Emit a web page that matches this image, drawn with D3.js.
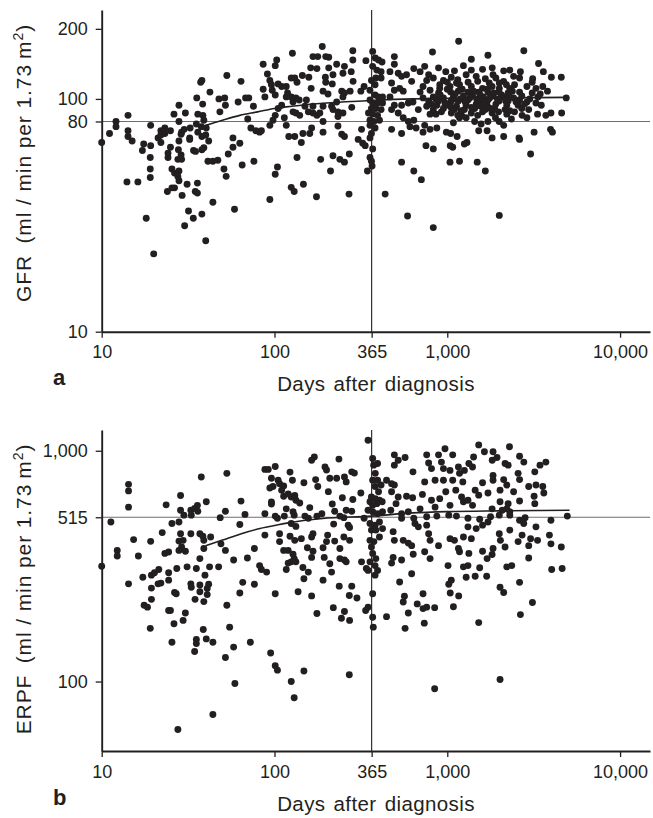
<!DOCTYPE html>
<html>
<head>
<meta charset="utf-8">
<script src="https://cdn.jsdelivr.net/npm/d3@7/dist/d3.min.js"></script>
<style>
html,body{margin:0;padding:0;background:#fff;}
svg{display:block;font-family:"Liberation Sans",Arial,Helvetica,sans-serif;}
</style>
</head>
<body>
<svg id="chart" width="653" height="818"></svg>
<script>
// ---------------- DATA ----------------
const xTickValues = [10, 100, 365, 1000, 10000];
const xTickLabels = ["10", "100", "365", "1,000", "10,000"];
const gfrTickValues = [10, 80, 100, 200];
const gfrTickLabels = ["10", "80", "100", "200"];
const erpfTickValues = [100, 515, 1000];
const erpfTickLabels = ["100", "515", "1,000"];
const refDays = 365;
const refGfr = 80;
const refErpf = 515;

// Panel a: GFR scatter (days, ml/min per 1.73 m2)
const gfrDays = [
10,11.1,12.1,12.1,14.2,14.2,14.2,15,14,16.2,17.5,17.2,19.2,19.2,19.1,19.1,19.1,18.1,20,21.2,22,22,23.2,23.2,25,25,24.2,24.2,25.5,26.4,28,27.6,29,28.8,28,29,28,26.2,28,30.5,28,26.4,25.5,24,29.2,31.2,31.8,33.9,30.2,38,40,44,35.8,34.8,35.8,34,34.9,38,39,41.6,38,36,32.3,32.3,32.5,35.3,36,38.5,39,37.7,40.3,35.5,38.4,37.4,38,42.3,48.3,47.7,51.5,52,53,61.6,64,68,71,75.5,70,73,78,76,63,57.5,57.5,54,51,52.5,58.7,65,41.2,44,47,40,28.8,27.8,27.6,30,22,
86,103,101,91,94,96,86,88,97,101,105,110,117,119,125,133,139,128,117,110,105,101,98,94,114,117,128,133,140,150,153,157,167,176,191,191,164,160,146,143,131,121,82,84,104,101,125,130,147,94,135,175,185,211,218,239,254,271,270,245,254,233,127,167,178,189,198,206,176,162,145,158,163,131,135,125,197,198,218,216,206,229,254,249,278,284,284,285,245,254,274,249,229,214,218,233,249,233,280,204,191,183,191,167,319,305,324,335,316,330,338,370,383,400,419,370,391,414,386,364,414,382,357,382,400,422,357,370,395,422,364,386,414,350,370,395,357,376,405,357,382,364,357,370,357,364,367,345,437,476,544,544,640,589,466,494,494,520,544,581,622,476,494,530,556,466,494,544,595,633,476,520,556,595,608,640,
1164,821,1378,1719,2773,3374,3598,4003,4569,4880,4590,3981,3720,3960,4060,3180,3035,2600,2620,2120,1817,1700,1520,1570,1995,2120,1300,1256,1140,1075,1040,830,753,1037,1177,1490,1660,708,2000,830,740,890,1240,1600,1820,2120,2300,2650,2420,2620,3120,2890,3260,3570,3800,760,830,950,1055,1286,1470,1660,1910,2120,696,795,904,1037,1177,1378,1600,1817,2000,2300,2620,724,830,950,1085,1240,1400,1617,1840,2120,2420,760,870,1020,1130,1286,1470,1700,1910,2210,2570,2890,3260,2960,3330,795,925,1055,1210,1378,1600,1817,2210,1440,1719,1085,740,724,988,1046,870,795,660,640,680,980,1130,724,890,1046,1158,1317,1520,1719,1995,2250,780,890,1046,1158,1317,1520,1719,1995,2250,2620,830,950,1100,1256,1440,1660,1880,2160,1177,1286,696,780,1100,1378,1840,2710,2890,
810,860,910,970,1000,1065,1110,1190,1220,1270,1350,1420,1480,1550,1640,1700,1760,1860,1950,2060,2180,2280,2380,2500,2700,2800,3000,3100,3350,3500,905,1000,1150,1320,1500,1750,2000,2200,2450,1050,1200,1380,1560,1780,1980,2300,2450,2700,860,1150,1500,1900,2350,3100,3450
];
const gfrValues = [
65,71,80,76,85,73,69,66,44,44,64,60,77,63,56,50,46,30.7,21.6,68,65,73,75,71,73,62,58.5,56,50,48,49,55,55,57.5,66,72,80,86,94,87,44.5,41.5,41.5,40,38.5,43,33,30.7,28.5,32,24.6,36,43.5,40,39.4,60,59.5,60.5,61.7,66,69,72,68,67,75,78,86,85,81,76,75,101,95,118,120,107,88,100,101,94,126,97,119,101,101,93,82,75,73,54,64.5,62,68,58,50,46.5,33.6,52,54,54,54.5,70,70.5,60.5,46.4,74,70,
141,147,139,128,120,115,110,102,109,104,116,113,113,106,102,101,99,97,102,94,91,85,81,77,83,77,88,87,85,93,99,88,87,85,80,72,75,71,71,65,69,69,72,73,51,47.5,41.7,40,43,37,56,38,55,49,57,55,53.5,58,39,70.5,69,76.5,157,152,152,168,152,151,135,136,126,124,111,123,118,123,124,118,127,116,136,141,138,129,131,147,161,119,108,106,108,102,97,93,90,88,87,84,92,105,108,87,93,93,74,67,64.5,63,108,113,146,160,150,147,144,138,133,131,123,120,123,115,109,104,102,102,99,96,96,96,91,91,90,87,86,85,81,80,81,77,75,71,68,61,56,54,51.5,49,39,74,71,53.5,49,31.4,131,152,141,129,125,127,119,117,109,111,108,102,94,94,96,97,90,87,83,80,76,135,
177,159,148,154,161,142,131,124,124,101,87,87,85,74,72,72,58,68,67,69,68,73,73,78,80,77,65,64,69,62,63,61,63,53.5,54,53.5,49,45,31.6,28,138,136,139,134,136,132,133,131,125,123,122,113,111,113,108,120,123,120,124,127,125,122,123,119,107,109,111,113,115,113,111,113,111,111,107,101,102,101,102,103,104,102,103,102,101,93,94,94,93,94,95,94,95,94,94,97,96,90,86,86,88,87,85,87,88,87,86,80,80,79,77,72,72,71,75,74,75,81,90,131,117,113,106,107,108,107,107,107,107,106,98,98,97,98,99,98,99,98,98,99,90,91,90,90,91,90,91,90,83,83,131,127,132,133,127,85,83,
95,100,104,96,110,99,105,100,110,97,101,108,100,104,96,110,101,106,100,104,98,103,108,97,103,95,100,106,102,94,115,118,121,118,119,117,117,115,115,92,89,92,93,91,88,89,88,91,86,85,85,83,82,118,105
];
// Panel a fitted curve
const gfrCurveDays = [40, 50, 63, 80, 100, 126, 200, 365, 630, 1000, 2000, 4900];
const gfrCurveValues = [77, 81, 85, 88, 91, 93, 96, 98.5, 100, 100.5, 101, 101.5];

// Panel b: ERPF scatter (days, ml/min per 1.73 m2)
const erpfDays = [
10,11.3,12.3,12.3,14.3,14.3,14.3,15.3,14.3,16.3,17.3,17.6,18.4,19.1,19.2,19.4,19.4,19.4,20.2,21.4,21.2,22,23.6,22.4,23.2,24.4,25.5,24.4,24.4,24.4,25,26.4,27,26.2,25.5,27.2,28.6,28.6,29.9,28,28.6,28,29,30.5,31.2,32.8,33,34.7,30.5,29.6,32.8,33,34.5,35.8,36,35.3,37,37,39,39.6,40.8,40.8,41.6,37.7,37,38.5,39,39,37,40.3,42.7,42.1,47.5,38.7,40.3,35.3,35.3,34.5,44,52,59,44,27.6,53,48.5,52,49,52,58,63,64,67.5,69.7,65.5,63,53,55,58,72.5,76.5,76.5,28,32.8,29.6,
348,170,164,236,88,92,101,123,196,200,96,105,107,127,148,173,209,229,254,280,290,260,94,98,113,110,178,205,113,120,125,131,133,140,96,96,117,128,160,216,247,284,316,88,101,104,114,130,150,157,176,188,223,239,252,260,280,330,125,133,220,267,272,88,107,123,131,143,164,167,203,200,223,252,272,107,113,120,128,130,120,125,133,155,167,191,194,164,82,84,90,117,146,157,148,101,137,164,191,209,214,239,254,260,239,237,280,271,300,176,219,254,244,272,319,340,337,348,370,370,373,445,570,595,556,565,530,622,544,476,486,635,95,101,104,125,148,130,271,
370,375,395,383,370,395,414,382,400,364,383,405,357,370,391,420,348,370,395,422,357,382,405,364,386,422,357,376,405,364,370,386,357,382,395,348,382,445,476,494,494,494,520,570,633,476,520,581,505,471,544,595,544,486,494,556,595,622,
1520,2290,970,760,890,1075,1640,1840,1940,1420,2620,2773,3720,3440,3210,780,810,925,950,1037,1160,1177,1256,1333,1400,1820,2160,2250,2570,740,850,950,1075,1230,1600,1840,1840,2120,2210,2620,2960,3260,3570,3620,3180,3210,2420,2020,1720,1450,1120,980,718,630,810,904,1210,1317,1240,1520,2020,2250,2620,696,850,1037,1400,1817,2080,2210,2300,640,760,870,1020,1130,1317,1540,1780,2000,2300,2820,2620,2770,3980,4950,650,680,760,780,795,890,1037,1100,1160,1177,1240,1378,1317,1470,1600,1720,2000,2030,2300,2160,1840,1600,1333,1817,1700,2570,2710,3035,3330,2960,3260,3900,3980,4570,2960,2360,2210,1540,1317,1240,1010,795,740,1286,1450,1690,1055,1020,1040,1164,1085,724,670,724,760,845,736,1520,2020,2120,2620,3110,2650,4020,4620,845,2020
];
const erpfValues = [
316,491,370,350,715,670,570,412,265,350,283,214,210,170,405,289,254,227,296,306,265,267,583,442,359,364,484,296,275,203,203,243,240,178,148,309,640,552,526,491,437,406,383,367,314,265,256,227,198,184,552,526,563,580,547,309,245,262,222,289,253,238,264,769,437,426,409,377,341,601,423,314,314,168,153,152,146,135,148,127,98,72,62,798,513,547,395,370,336,479,605,530,343,269,242,214,172,141,148,377,264,370,437,409,
1110,940,910,920,830,830,855,808,850,825,760,745,720,745,727,750,760,760,770,810,800,733,690,700,703,675,700,665,635,650,630,640,610,594,600,588,560,544,567,588,626,615,656,534,521,510,521,526,521,510,521,534,547,521,513,552,547,510,484,470,481,476,465,431,437,426,409,416,423,437,431,404,406,423,409,404,370,370,356,341,326,330,330,380,367,380,345,345,318,306,298,306,312,298,279,240,245,235,275,324,298,341,336,330,377,259,259,236,230,197,209,201,188,184,330,309,203,210,240,190,172,191,170,198,221,234,270,293,336,326,345,356,133,117,112,100,111,85,107,
925,866,880,798,745,745,710,700,664,630,620,610,601,580,590,601,552,544,534,544,484,476,491,453,453,460,409,404,423,383,359,341,330,318,303,303,289,745,720,710,866,960,910,935,810,664,630,635,590,552,534,544,510,446,409,409,398,388,
1060,1040,1020,960,960,960,990,990,935,940,947,893,893,866,810,885,837,893,837,822,850,798,822,880,850,910,880,866,798,733,745,745,745,733,727,782,745,750,710,750,700,710,700,656,635,590,664,675,656,675,675,664,647,626,610,620,630,610,601,642,601,590,606,560,570,580,580,560,552,560,544,510,518,521,526,521,510,505,518,526,526,513,500,484,500,521,484,468,476,437,409,388,416,409,377,365,423,416,468,460,476,491,437,409,453,383,377,367,359,355,341,404,431,416,409,388,468,431,395,383,343,318,314,311,318,314,318,341,365,283,286,286,275,264,242,235,211,240,217,207,210,209,179,180,256,243,269,220,195,306,309,93,102
];
// Panel b fitted curve
const erpfCurveDays = [40, 50, 63, 80, 100, 120, 190, 365, 630, 1000, 2000, 5100];
const erpfCurveValues = [388, 410, 435, 458, 474, 487, 509, 521, 538, 545, 549, 552];

// ---------------- DRAWING ----------------
const svg = d3.select("#chart");
const ink = "#231f20";
const FONT = '"Liberation Sans", Arial, Helvetica, sans-serif';

const x = d3.scaleLog().domain([10, 14900]).range([101.7, 650]);

const panels = [
  {
    days: gfrDays, vals: gfrValues, cDays: gfrCurveDays, cVals: gfrCurveValues,
    y: d3.scaleLog().domain([10, 241]).range([331.7, 10]),
    ticks: gfrTickValues, tickLabels: gfrTickLabels, ref: refGfr,
    title: "GFR", letter: "a", titleCy: 163, xTitleY: 391, letterY: 384.5
  },
  {
    days: erpfDays, vals: erpfValues, cDays: erpfCurveDays, cVals: erpfCurveValues,
    y: d3.scaleLog().domain([50, 1230]).range([751, 430]),
    ticks: erpfTickValues, tickLabels: erpfTickLabels, ref: refErpf,
    title: "ERPF", letter: "b", titleCy: 589, xTitleY: 811, letterY: 805
  }
];

panels.forEach(p => {
  const g = svg.append("g");
  const y = p.y;
  const yBottom = y.range()[0], yTop = y.range()[1];

  // reference lines
  g.append("line")
    .attr("x1", x.range()[0]).attr("x2", x.range()[1])
    .attr("y1", y(p.ref)).attr("y2", y(p.ref))
    .attr("stroke", "#6d6e71").attr("stroke-width", 1.1);
  g.append("line")
    .attr("x1", x(refDays)).attr("x2", x(refDays))
    .attr("y1", yTop).attr("y2", yBottom)
    .attr("stroke", ink).attr("stroke-width", 1.1);

  // points
  g.append("g").selectAll("circle")
    .data(p.days.map((d, i) => [d, p.vals[i]]))
    .join("circle")
    .attr("cx", d => x(d[0]))
    .attr("cy", d => y(d[1]))
    .attr("r", 3.45)
    .attr("fill", ink);

  // fitted curve
  const line = d3.line()
    .x(d => x(d[0])).y(d => y(d[1]))
    .curve(d3.curveMonotoneX);
  g.append("path")
    .datum(p.cDays.map((d, i) => [d, p.cVals[i]]))
    .attr("d", line)
    .attr("fill", "none")
    .attr("stroke", ink)
    .attr("stroke-width", 1.6);

  // x axis
  const xAxis = d3.axisBottom(x)
    .tickValues(xTickValues)
    .tickFormat((d, i) => xTickLabels[i])
    .tickSize(6).tickSizeOuter(0).tickPadding(8);
  const gx = g.append("g").attr("transform", `translate(0,${yBottom})`).call(xAxis);

  // y axis
  const yAxis = d3.axisLeft(y)
    .tickValues(p.ticks)
    .tickFormat((d, i) => p.tickLabels[i])
    .tickSize(6).tickSizeOuter(0).tickPadding(8);
  const gy = g.append("g").attr("transform", `translate(${x.range()[0]},0)`).call(yAxis);

  [gx, gy].forEach(a => {
    a.select(".domain").attr("stroke", ink).attr("stroke-width", 1.9);
    a.selectAll(".tick line").attr("stroke", ink).attr("stroke-width", 1.3);
    a.selectAll(".tick text")
      .attr("fill", ink)
      .style("font-family", FONT)
      .style("font-size", "18px");
  });

  // x title
  g.append("text")
    .attr("x", 376).attr("y", p.xTitleY)
    .attr("text-anchor", "middle")
    .attr("fill", ink)
    .style("font-family", FONT).style("font-size", "20.5px")
    .style("letter-spacing", "0.4px").style("word-spacing", "2px")
    .text("Days after diagnosis");

  // panel letter
  g.append("text")
    .attr("x", 53).attr("y", p.letterY)
    .attr("fill", ink)
    .style("font-family", FONT).style("font-size", "22px").style("font-weight", "bold")
    .text(p.letter);

  // y title
  const yt = g.append("text")
    .attr("transform", `translate(31,${p.titleCy}) rotate(-90)`)
    .attr("text-anchor", "middle")
    .attr("fill", ink)
    .style("font-family", FONT).style("font-size", "21px")
    .style("letter-spacing", "0.9px");
  yt.append("tspan").text(p.title + "\u2002(ml / min per 1.73\u2009m");
  yt.append("tspan").attr("dy", -8).style("font-size", "14px").text("2");
  yt.append("tspan").attr("dy", 8).text(")");
});
</script>
</body>
</html>
